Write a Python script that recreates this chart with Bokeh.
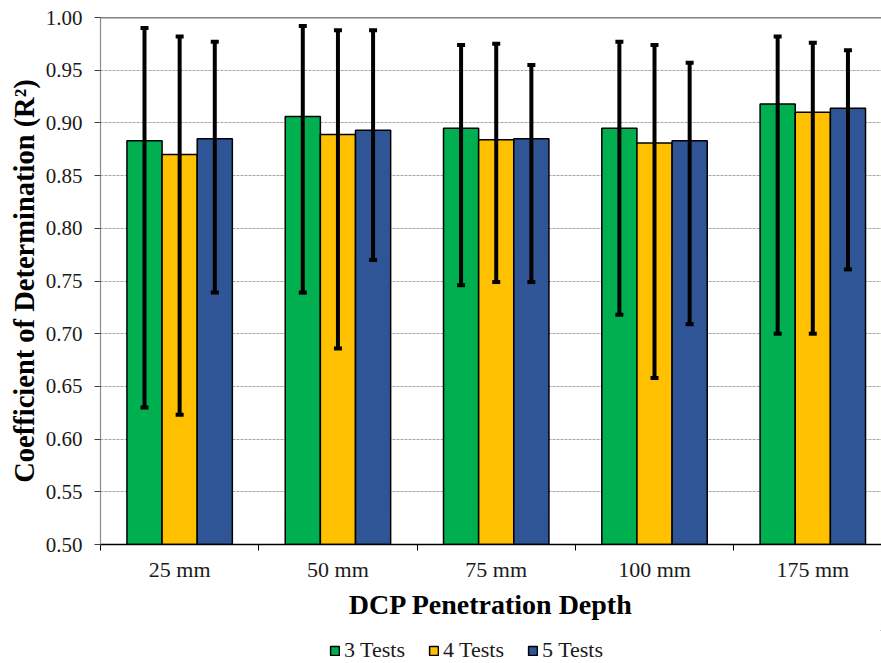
from bokeh.plotting import figure
from bokeh.layouts import column
from bokeh.models import (ColumnDataSource, Whisker, TeeHead, FixedTicker, Span,
                          Legend, LegendItem, Range1d, NumeralTickFormatter)
from bokeh.embed import file_html
from bokeh.resources import INLINE

categories = ["25 mm", "50 mm", "75 mm", "100 mm", "175 mm"]
series = ["3 Tests", "4 Tests", "5 Tests"]
colors = ["#00B050", "#FFC000", "#2F5597"]

r2_3 = [0.883, 0.906, 0.895, 0.895, 0.918]
r2_4 = [0.870, 0.889, 0.884, 0.881, 0.910]
r2_5 = [0.885, 0.893, 0.885, 0.883, 0.914]
upper_3 = [0.990, 0.992, 0.974, 0.977, 0.982]
upper_4 = [0.982, 0.988, 0.975, 0.974, 0.976]
upper_5 = [0.977, 0.988, 0.955, 0.957, 0.969]
lower_3 = [0.630, 0.739, 0.746, 0.718, 0.700]
lower_4 = [0.623, 0.686, 0.749, 0.658, 0.700]
lower_5 = [0.739, 0.770, 0.749, 0.709, 0.761]

values = [r2_3, r2_4, r2_5]
uppers = [upper_3, upper_4, upper_5]
lowers = [lower_3, lower_4, lower_5]

FONT = "Liberation Serif"
bar_w = 0.222
offsets = [-0.222, 0.0, 0.222]
n = len(categories)

p = figure(width=881, height=630, output_backend="svg", toolbar_location=None,
           x_range=Range1d(0, 4.934), y_range=Range1d(0.5, 1.0),
           min_border_left=100, min_border_right=0, min_border_top=17,
           min_border_bottom=86)
p.outline_line_color = None
p.background_fill_color = "white"
p.border_fill_color = "white"

for k in range(3):
    xs = [i + 0.5 + offsets[k] for i in range(n)]
    src = ColumnDataSource(dict(x=xs, top=values[k], upper=uppers[k], lower=lowers[k]))
    p.vbar(x="x", top="top", bottom=0.5, width=bar_w, source=src,
           fill_color=colors[k], line_color="black", line_width=1.5)
    w = Whisker(base="x", upper="upper", lower="lower", source=src,
                line_color="black", line_width=4, level="annotation",
                upper_head=TeeHead(size=8, line_width=4, line_color="black"),
                lower_head=TeeHead(size=8, line_width=4, line_color="black"))
    p.add_layout(w)

# top border line at 1.00
p.add_layout(Span(location=1.0, dimension="width", line_color="black", line_width=1.5))

# y axis
yt = [0.5 + 0.05 * i for i in range(11)]
p.yaxis.ticker = FixedTicker(ticks=yt)
p.yaxis.formatter = NumeralTickFormatter(format="0.00")
p.yaxis.axis_line_color = "#8C8C8C"
p.yaxis.axis_line_width = 1.2
p.yaxis.major_tick_line_color = "#404040"
p.yaxis.major_tick_out = 6
p.yaxis.major_tick_in = 0
p.yaxis.minor_tick_line_color = None
p.yaxis.major_label_text_font = FONT
p.yaxis.major_label_text_font_size = "21px"
p.yaxis.major_label_text_color = "#1a1a1a"
p.yaxis.major_label_standoff = 12
p.yaxis.axis_label = "Coefficient of Determination (R\u00b2)"
p.yaxis.axis_label_text_font = FONT
p.yaxis.axis_label_text_font_style = "bold"
p.yaxis.axis_label_text_font_size = "28.5px"
p.yaxis.axis_label_text_color = "black"
p.yaxis.axis_label_standoff = 3

# x axis: labels at centers, boundary ticks as minor ticks
centers = [i + 0.5 for i in range(n)]
bounds = [float(i) for i in range(n + 1)]
p.xaxis.ticker = FixedTicker(ticks=centers, minor_ticks=bounds)
p.xaxis.major_label_overrides = {c: lab for c, lab in zip(centers, categories)}
p.xaxis.major_tick_line_color = None
p.xaxis.minor_tick_line_color = "black"
p.xaxis.minor_tick_out = 6
p.xaxis.minor_tick_in = 0
p.xaxis.major_tick_out = 6
p.xaxis.major_tick_in = 0
p.xaxis.axis_line_color = "black"
p.xaxis.axis_line_width = 1.5
p.xaxis.major_label_text_font = FONT
p.xaxis.major_label_text_font_size = "22px"
p.xaxis.major_label_text_color = "#1a1a1a"
p.xaxis.major_label_standoff = 6
p.xaxis.axis_label = "DCP Penetration Depth"
p.xaxis.axis_label_text_font = FONT
p.xaxis.axis_label_text_font_style = "bold"
p.xaxis.axis_label_text_font_size = "28px"
p.xaxis.axis_label_text_color = "black"
p.xaxis.axis_label_standoff = 4

p.xgrid.grid_line_color = None
p.ygrid.ticker = FixedTicker(ticks=yt)
p.ygrid.grid_line_color = "#A6A6A6"
p.ygrid.grid_line_dash = "3 1"
p.ygrid.grid_line_width = 1

# legend strip below the chart (its swatch glyphs sit outside the visible range)
pl = figure(width=881, height=33, output_backend="svg", toolbar_location=None,
            x_range=Range1d(0, 1), y_range=Range1d(0, 1),
            x_axis_location=None, y_axis_location=None,
            min_border_left=0, min_border_right=0, min_border_top=0, min_border_bottom=0)
pl.outline_line_color = None
pl.xgrid.grid_line_color = None
pl.ygrid.grid_line_color = None
pl.background_fill_color = "white"
pl.border_fill_color = "white"
leg_renderers = []
for k in range(3):
    r = pl.vbar(x=[5.0], top=[5.0], bottom=[4.0], width=0.1, fill_color=colors[k],
                line_color="black", line_width=1.5)
    leg_renderers.append(r)

legend = Legend(items=[LegendItem(label=s, renderers=[r]) for s, r in zip(series, leg_renderers)],
                orientation="horizontal", location=(229, 0),
                glyph_width=11, glyph_height=11, label_standoff=4, label_height=20,
                label_text_font=FONT, label_text_font_size="22px",
                label_text_color="#1a1a1a", spacing=23, padding=0, margin=0,
                border_line_color=None, background_fill_alpha=0)
pl.add_layout(legend, "center")

layout = column(p, pl, spacing=0)
open("out.html", "w").write(file_html(layout, INLINE))
